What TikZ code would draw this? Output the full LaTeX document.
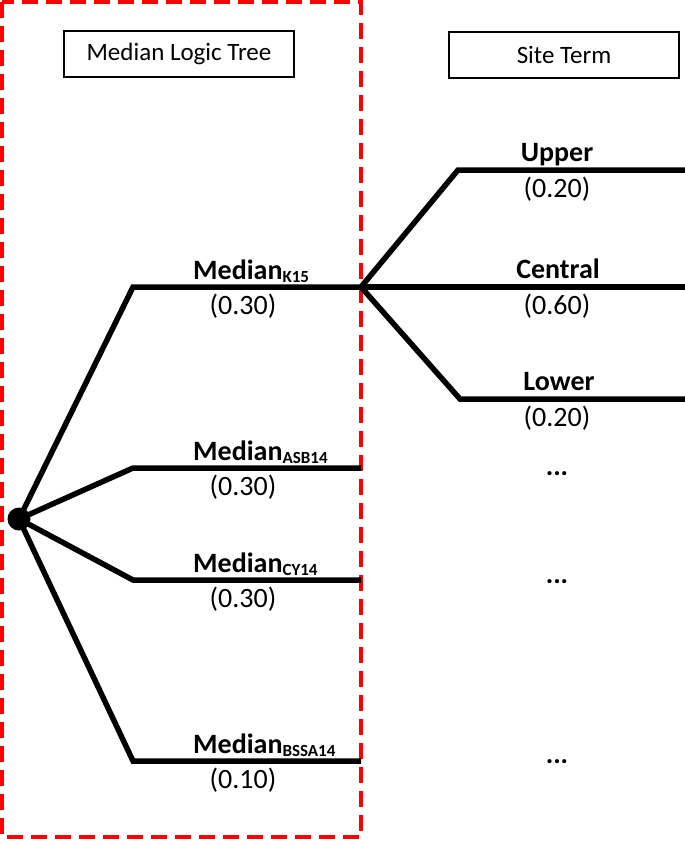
\documentclass[tikz,border=0pt]{standalone}
\usepackage{fontspec}
\setmainfont{Carlito}
\usetikzlibrary{positioning}

\newcommand{\msub}[1]{\raisebox{-3pt}{\fontsize{17}{17}\selectfont #1}}

\begin{document}
\begin{tikzpicture}[x=1pt,y=-1pt]
\tikzstyle{every node}+=[inner sep=0pt]
\tikzstyle{branch}=[black,line width=5.5pt]
\tikzstyle{titlebox}=[draw=black,line width=1.6pt,minimum width=230pt,minimum height=46pt,font=\fontsize{25}{27}\selectfont]
\tikzstyle{brlabel}=[anchor=base,font=\bfseries\fontsize{28}{30}\selectfont]
\tikzstyle{wlabel}=[anchor=base,font=\fontsize{28}{30}\selectfont]
\useasboundingbox (0,0) rectangle (685,841);
% dashed frame round the median part
\draw [red,line width=3.5pt,dash pattern=on 16pt off 8pt] (2,2) rectangle (361,837);
\node [titlebox] (medbox) at (179,54) {Median Logic Tree};
\node [titlebox] (sitebox) at (564,55) {Site Term};
% root of the tree
\node [circle,fill=black,minimum size=23pt] (root) at (19,519) {};
\coordinate (k15a) at (133,287);
\coordinate (k15b) at (361,287);
\coordinate (asba) at (133,468);
\coordinate (asbb) at (361,468);
\coordinate (cya) at (133,580);
\coordinate (cyb) at (361,580);
\coordinate (bssaa) at (133,761);
\coordinate (bssab) at (361,761);
\draw [branch] (root.center) -- (k15a) -- (k15b);
\draw [branch] (root.center) -- (asba) -- (asbb);
\draw [branch] (root.center) -- (cya) -- (cyb);
\draw [branch] (root.center) -- (bssaa) -- (bssab);
\node [brlabel,anchor=base west] (k15) at (193,279) {Median\msub{K15}};
\node [wlabel] (k15w) at (243,314) {(0.30)};
\node [brlabel,anchor=base west] (asb) at (193,460) {Median\msub{ASB14}};
\node [wlabel] (asbw) at (243,495) {(0.30)};
\node [brlabel,anchor=base west] (cy) at (193,572) {Median\msub{CY14}};
\node [wlabel] (cyw) at (243,607) {(0.30)};
\node [brlabel,anchor=base west] (bssa) at (193,753) {Median\msub{BSSA14}};
\node [wlabel] (bssaw) at (243,788) {(0.10)};
% site term branches
\coordinate (upa) at (458,170);
\coordinate (upb) at (685,170);
\coordinate (cenb) at (685,287);
\coordinate (lowa) at (460,399);
\coordinate (lowb) at (685,399);
\draw [branch] (k15b) -- (upa) -- (upb);
\draw [branch] (k15b) -- (cenb);
\draw [branch] (k15b) -- (lowa) -- (lowb);
\node [brlabel] (up) at (557,161) {Upper};
\node [wlabel] (upw) at (557,197) {(0.20)};
\node [brlabel] (cen) at (558,278) {Central};
\node [wlabel] (cenw) at (557,314) {(0.60)};
\node [brlabel] (low) at (559,390) {Lower};
\node [wlabel] (loww) at (557,426) {(0.20)};
\node [brlabel] (dotsa) at (557,475) {...};
\node [brlabel] (dotsb) at (557,583) {...};
\node [brlabel] (dotsc) at (557,763) {...};
\end{tikzpicture}
\end{document}
